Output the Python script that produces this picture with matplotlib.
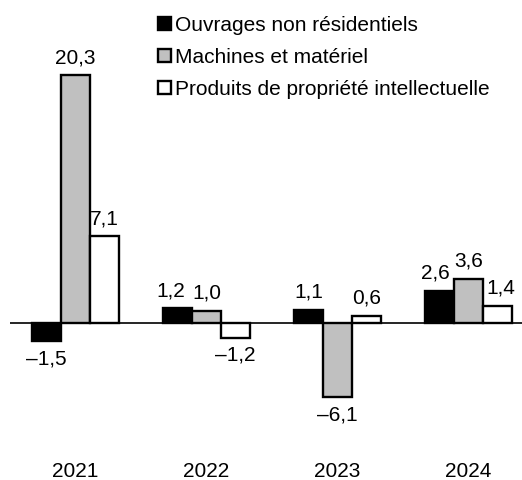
import numpy as np
import matplotlib.pyplot as plt
from matplotlib.patches import Patch

plt.rcParams['font.family'] = ['Liberation Sans', 'DejaVu Sans']

annees = ["2021", "2022", "2023", "2024"]
series = ["Ouvrages non résidentiels", "Machines et matériel",
          "Produits de propriété intellectuelle"]
ouvrages = [-1.5, 1.2, 1.1, 2.6]
machines = [20.3, 1.0, -6.1, 3.6]
produits = [7.1, -1.2, 0.6, 1.4]
couleurs = ["#000000", "#c0c0c0", "#ffffff"]

# small horizontal nudges of labels (points) so they don't collide
decalage = {(0, 1): -5, (0, 3): -3, (2, 3): 2}

fig = plt.figure(figsize=(5.22, 4.8), dpi=100)
# zero line at 323 px from top, 12.2 px per unit
ax = fig.add_axes([10/522, 60/480, 512/522, 420/480])
ax.set_ylim(-(420-323)/12.2, 323/12.2)
ax.set_xlim(-0.5, 3.408)

x = np.arange(len(annees))
w = 0.222
for i, (vals, c) in enumerate(zip([ouvrages, machines, produits], couleurs)):
    pos = x + (i-1)*w
    ax.bar(pos, vals, w, color=c, edgecolor="black", linewidth=1.7, zorder=3)
    for j, (px, v) in enumerate(zip(pos, vals)):
        txt = ("%.1f" % abs(v)).replace(".", ",")
        dx = decalage.get((i, j), 0)
        if v < 0:
            txt = "\u2013" + txt
            ax.annotate(txt, (px, v), xytext=(dx, -6), textcoords="offset points",
                        ha="center", va="top", fontsize=15)
        else:
            ax.annotate(txt, (px, v), xytext=(dx, 6), textcoords="offset points",
                        ha="center", va="bottom", fontsize=15)

ax.axhline(0, color="black", linewidth=1.2, zorder=4)
for s in ax.spines.values():
    s.set_visible(False)
ax.set_yticks([])
ax.set_xticks(x)
ax.set_xticklabels(annees, fontsize=15)
ax.tick_params(axis="x", length=0, pad=30)

handles = [Patch(facecolor=c, edgecolor="black", linewidth=1.7) for c in couleurs]
fig.legend(handles, series, loc="upper left", bbox_to_anchor=(158/522, 1 - 16/480),
           frameon=False, fontsize=15, handlelength=0.62, handleheight=0.62,
           handletextpad=0.2, labelspacing=0.62, borderpad=0, borderaxespad=0)

fig.savefig("out.png", dpi=100)
